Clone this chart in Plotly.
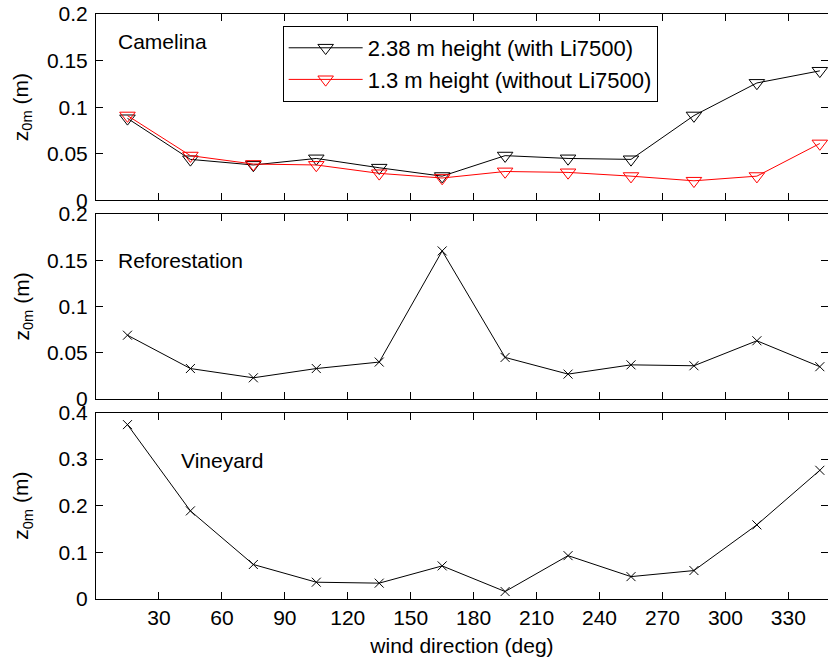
import plotly.graph_objects as go

# ---- data ----
wind_dir = [15, 45, 75, 105, 135, 165, 195, 225, 255, 285, 315, 345]
camelina_238 = [0.088, 0.044, 0.038, 0.045, 0.035, 0.026, 0.048, 0.045, 0.044, 0.091, 0.126, 0.139]
camelina_13 = [0.091, 0.048, 0.039, 0.038, 0.029, 0.024, 0.031, 0.030, 0.026, 0.021, 0.026, 0.061]
reforestation = [0.069, 0.033, 0.023, 0.033, 0.040, 0.160, 0.045, 0.027, 0.037, 0.036, 0.063, 0.035]
vineyard = [0.374, 0.189, 0.074, 0.036, 0.034, 0.071, 0.016, 0.093, 0.048, 0.061, 0.159, 0.276]

x_ticks = [30, 60, 90, 120, 150, 180, 210, 240, 270, 300, 330]
legend_names = ["2.38 m height (with Li7500)", "1.3 m height (without Li7500)"]
panel_labels = ["Camelina", "Reforestation", "Vineyard"]
y_title = "z<sub>0m</sub> (m)"
x_title = "wind direction (deg)"

FONT = "Liberation Sans, Arial, sans-serif"
FS = 21

fig = go.Figure()

fig.add_trace(go.Scatter(
    x=wind_dir, y=camelina_238, mode="lines+markers", name=legend_names[0],
    line=dict(color="black", width=1),
    marker=dict(symbol="triangle-down-open", size=13.5, color="black", line=dict(width=1)),
    xaxis="x", yaxis="y"))
fig.add_trace(go.Scatter(
    x=wind_dir, y=camelina_13, mode="lines+markers", name=legend_names[1],
    line=dict(color="red", width=1),
    marker=dict(symbol="triangle-down-open", size=13.5, color="red", line=dict(width=1)),
    xaxis="x", yaxis="y"))
fig.add_trace(go.Scatter(
    x=wind_dir, y=reforestation, mode="lines+markers", showlegend=False,
    line=dict(color="black", width=1),
    marker=dict(symbol="x-thin-open", size=9, color="black", line=dict(width=1, color="black")),
    xaxis="x2", yaxis="y2"))
fig.add_trace(go.Scatter(
    x=wind_dir, y=vineyard, mode="lines+markers", showlegend=False,
    line=dict(color="black", width=1),
    marker=dict(symbol="x-thin-open", size=9, color="black", line=dict(width=1, color="black")),
    xaxis="x3", yaxis="y3"))

XR = [0, 348.9]
common_x = dict(range=XR, tickvals=x_ticks, ticks="inside", ticklen=7, tickcolor="black",
                showline=True, linecolor="black", linewidth=1, mirror="ticks",
                showgrid=False, zeroline=False, tickfont=dict(size=FS, color="black"))
common_y = dict(ticks="inside", ticklen=7, tickcolor="black",
                showline=True, linecolor="black", linewidth=1, mirror="ticks",
                showgrid=False, zeroline=False, tickfont=dict(size=FS, color="black"),
                ticklabelstandoff=3)

d3 = [0.0, 0.3188]
d2 = [0.3417, 0.6583]
d1 = [0.6814, 1.0]

fig.update_layout(
    width=828, height=659,
    margin=dict(l=96, r=0, t=14, b=59.7),
    paper_bgcolor="white", plot_bgcolor="white",
    font=dict(family=FONT, size=FS, color="black"),
    xaxis=dict(common_x, anchor="y", domain=[0, 1], showticklabels=False),
    xaxis2=dict(common_x, anchor="y2", domain=[0, 1], showticklabels=False, matches="x"),
    xaxis3=dict(common_x, anchor="y3", domain=[0, 1],
                title=dict(text=x_title, font=dict(size=FS, color="black"), standoff=10)),
    yaxis=dict(common_y, anchor="x", domain=d1, range=[0, 0.2], tickvals=[0, 0.05, 0.1, 0.15, 0.2],
               ticktext=["0", "0.05", "0.1", "0.15", "0.2"]),
    yaxis2=dict(common_y, anchor="x2", domain=d2, range=[0, 0.2], tickvals=[0, 0.05, 0.1, 0.15, 0.2],
                ticktext=["0", "0.05", "0.1", "0.15", "0.2"]),
    yaxis3=dict(common_y, anchor="x3", domain=d3, range=[0, 0.4], tickvals=[0, 0.1, 0.2, 0.3, 0.4],
                ticktext=["0", "0.1", "0.2", "0.3", "0.4"]),
    legend=dict(x=0.255, y=0.9795, xanchor="left", yanchor="top",
                bgcolor="white", bordercolor="black", borderwidth=1,
                font=dict(size=22, color="black"), itemwidth=74,
                traceorder="normal"),
    showlegend=True,
)

# panel labels
fig.add_annotation(x=9.5, y=0.17, xref="x", yref="y", text=panel_labels[0], showarrow=False,
                   xanchor="left", yanchor="middle", font=dict(size=FS, color="black"))
fig.add_annotation(x=9.5, y=0.15, xref="x2", yref="y2", text=panel_labels[1], showarrow=False,
                   xanchor="left", yanchor="middle", font=dict(size=FS, color="black"))
fig.add_annotation(x=39.7, y=0.297, xref="x3", yref="y3", text=panel_labels[2], showarrow=False,
                   xanchor="left", yanchor="middle", font=dict(size=FS, color="black"))

# y-axis titles (one per panel)
for yref in ["y domain", "y2 domain", "y3 domain"]:
    fig.add_annotation(x=-0.101, y=0.5, xref="paper", yref=yref, text=y_title, showarrow=False,
                       textangle=-90, xanchor="center", yanchor="middle",
                       font=dict(size=FS, color="black"))

fig.write_html("out.html")
